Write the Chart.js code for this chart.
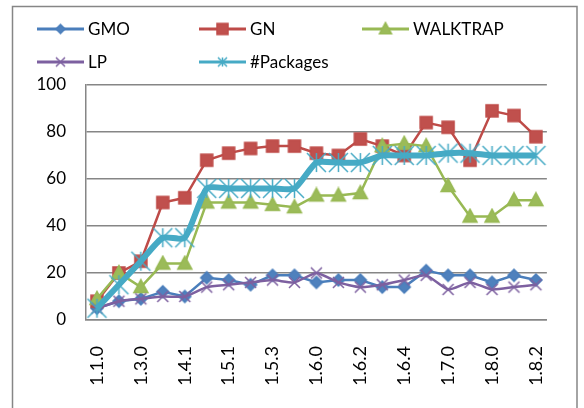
<!DOCTYPE html>
<html>
<head>
<meta charset="utf-8">
<script src="https://cdn.jsdelivr.net/npm/chart.js@4.4.0/dist/chart.umd.min.js"></script>
<style>
  html, body { margin: 0; padding: 0; background: #fff; }
</style>
</head>
<body>
<canvas id="grafica" width="584" height="408"></canvas>
<script>
const versions = ['1.1.0', '1.2.0', '1.3.0', '1.4.0', '1.4.1', '1.5.0', '1.5.1', '1.5.2', '1.5.3', '1.5.4',
  '1.6.0', '1.6.1', '1.6.2', '1.6.3', '1.6.4', '1.6.5', '1.7.0', '1.7.1', '1.8.0', '1.8.1', '1.8.2'];
const seriesNames = ['GMO', 'GN', 'WALKTRAP', 'LP', '#Packages'];
const gmo = [5, 8, 9, 12, 10, 18, 17, 15, 19, 19, 16, 17, 17, 14, 14, 21, 19, 19, 16, 19, 17];
const gn = [8, 20, 25, 50, 52, 68, 71, 73, 74, 74, 71, 70, 77, 74, 70, 84, 82, 68, 89, 87, 78];
const walktrap = [9, 20, 14, 24, 24, 50, 50, 50, 49, 48, 53, 53, 54, 74, 75, 74, 57, 44, 44, 51, 51];
const lp = [5, 8, 9, 10, 10, 14, 15, 16, 17, 16, 20, 16, 14, 15, 17, 19, 13, 16, 13, 14, 15];
const packages = [5, 15, 25, 35, 35, 56, 56, 56, 56, 56, 67, 67, 67, 70, 70, 70, 71, 71, 70, 70, 70];
const yTicks = [0, 20, 40, 60, 80, 100];

const FAMILY = 'Lato, "Liberation Sans", sans-serif';
const FONT = '17px ' + FAMILY;
const GRID = '#868686';

// marker images (Excel 2007 style), used for points and for the legend
function makeMarker(kind, s, fill, stroke) {
  const c = document.createElement('canvas');
  c.width = c.height = Math.ceil(s + 4);
  const g = c.getContext('2d');
  const m = c.width / 2, h = s / 2;
  g.fillStyle = fill;
  g.strokeStyle = stroke;
  g.lineWidth = 1.5;
  g.beginPath();
  if (kind === 'diamond') {
    g.moveTo(m, m - h); g.lineTo(m + h, m); g.lineTo(m, m + h); g.lineTo(m - h, m); g.closePath();
    g.fill(); g.stroke();
  } else if (kind === 'square') {
    g.rect(m - h, m - h, s, s);
    g.fill(); g.stroke();
  } else if (kind === 'triangle') {
    g.moveTo(m, m - h * 1.05); g.lineTo(m + h, m + h * 0.8); g.lineTo(m - h, m + h * 0.8); g.closePath();
    g.fill(); g.stroke();
  } else if (kind === 'x') {
    g.moveTo(m - h, m - h); g.lineTo(m + h, m + h);
    g.moveTo(m + h, m - h); g.lineTo(m - h, m + h);
    g.stroke();
  } else if (kind === 'star') {
    g.moveTo(m - h, m - h); g.lineTo(m + h, m + h);
    g.moveTo(m + h, m - h); g.lineTo(m - h, m + h);
    g.moveTo(m, m - h); g.lineTo(m, m + h);
    g.stroke();
  }
  return c;
}

const colors = {
  gmo: ['#4f81bd', '#4a7ebb'],
  gn: ['#c0504d', '#be4b48'],
  walktrap: ['#9bbb59', '#98b954'],
  lp: ['#8064a2', '#7d60a0'],
  packages: ['#4bacc6', '#46aac5']
};

const markers = [
  makeMarker('diamond', 12, colors.gmo[0], colors.gmo[1]),
  makeMarker('square', 12, colors.gn[0], colors.gn[1]),
  makeMarker('triangle', 14, colors.walktrap[0], colors.walktrap[1]),
  makeMarker('x', 11, colors.lp[0], colors.lp[1]),
  makeMarker('star', 19, colors.packages[0], colors.packages[1])
];
const legendMarkers = [
  makeMarker('diamond', 9, colors.gmo[0], colors.gmo[1]),
  makeMarker('square', 11, colors.gn[0], colors.gn[1]),
  makeMarker('triangle', 12, colors.walktrap[0], colors.walktrap[1]),
  makeMarker('x', 9, colors.lp[0], colors.lp[1]),
  makeMarker('star', 9, colors.packages[0], colors.packages[1])
];

function serie(i, data, col, width, tension) {
  return {
    label: seriesNames[i],
    data: data,
    borderColor: col[1],
    backgroundColor: col[0],
    borderWidth: width,
    pointStyle: markers[i],
    pointRadius: 6,
    tension: tension,
    order: 4 - i
  };
}

// outer frame of the chart
const framePlugin = {
  id: 'frame',
  beforeDraw(chart) {
    const c = chart.ctx;
    c.save();
    c.fillStyle = '#fff';
    c.fillRect(0, 0, chart.width, chart.height);
    c.strokeStyle = GRID;
    c.lineWidth = 1.5;
    c.beginPath();
    c.moveTo(12.5, 420);
    c.lineTo(12.5, 6.5);
    c.lineTo(577, 6.5);
    c.lineTo(577, 420);
    c.stroke();
    c.restore();
  }
};

// two-row legend laid out in columns like Excel
const legendSpots = [[37, 29], [199, 29], [362, 29], [37, 62], [199, 62]];
const legendPlugin = {
  id: 'gridLegend',
  afterDraw(chart) {
    const c = chart.ctx;
    c.save();
    chart.data.datasets.forEach((ds, i) => {
      const [x, y] = legendSpots[i];
      c.strokeStyle = ds.borderColor;
      c.lineWidth = 3;
      c.beginPath();
      c.moveTo(x, y);
      c.lineTo(x + 47, y);
      c.stroke();
      const mk = legendMarkers[i];
      c.drawImage(mk, x + 23.5 - mk.width / 2, y - mk.height / 2);
      c.fillStyle = '#000';
      c.font = FONT;
      c.textBaseline = 'middle';
      c.textAlign = 'left';
      c.fillText(ds.label, x + 51, y + 1);
    });
    c.restore();
  }
};

const ctx = document.getElementById('grafica').getContext('2d');
new Chart(ctx, {
  type: 'line',
  data: {
    labels: versions,
    datasets: [
      serie(0, gmo, colors.gmo, 2.5, 0),
      serie(1, gn, colors.gn, 2.5, 0),
      serie(2, walktrap, colors.walktrap, 2.5, 0),
      serie(3, lp, colors.lp, 2.5, 0.2),
      serie(4, packages, colors.packages, 6, 0.2)
    ]
  },
  options: {
    responsive: false,
    animation: false,
    layout: { padding: { top: 85, right: 21, left: 0, bottom: 0 } },
    plugins: {
      legend: { display: false },
      tooltip: { enabled: false }
    },
    scales: {
      x: {
        offset: true,
        grid: { display: false, drawTicks: false },
        border: { display: true, color: GRID, width: 1.5 },
        ticks: {
          autoSkip: false,
          maxRotation: 90,
          minRotation: 90,
          padding: 26,
          color: '#000',
          font: { family: FAMILY, size: 18 },
          callback: (v, i) => (i % 2 ? '' : versions[i])
        },
        afterFit: s => { s.height = 88; }
      },
      y: {
        min: 0,
        max: 100,
        grid: { color: GRID, lineWidth: 1.5, drawTicks: false },
        border: { display: true, color: GRID, width: 1.5 },
        ticks: {
          padding: 20,
          color: '#000',
          font: { family: FAMILY, size: 17 }
        },
        afterBuildTicks: s => { s.ticks = yTicks.map(v => ({ value: v })); },
        afterFit: s => { s.width = 86; }
      }
    }
  },
  plugins: [framePlugin, legendPlugin]
});
</script>
</body>
</html>
